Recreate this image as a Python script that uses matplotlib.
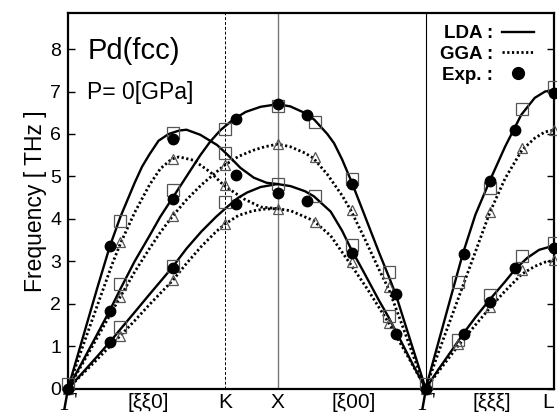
import matplotlib
matplotlib.use("Agg")
import matplotlib.pyplot as plt
from matplotlib.lines import Line2D

plt.rcParams['font.family'] = ['Liberation Sans', 'DejaVu Sans']

# high-symmetry positions along the path (units of 2pi/a)
G1, K, X, G2, L = 0.0, 1.0607, 1.4142, 2.4142, 3.2802
tick_pos = [G1, 0.54, K, X, 1.93, G2, 2.86, L]
tick_lab = ['Γ', '[ξξ0]', 'K', 'X', '[ξ00]', 'Γ', '[ξξξ]', 'L']

# ---- LDA curves (solid) ----
lda_a_x = [0, 0.1, 0.2, 0.283, 0.354, 0.45, 0.5, 0.55, 0.611, 0.68, 0.75, 0.8, 0.893, 1.006, 1.074, 1.164, 1.254, 1.34, 1.414]
lda_a_y = [0, 1.2, 2.4, 3.36, 4.05, 4.85, 5.23, 5.52, 5.84, 6.0, 6.08, 6.1, 5.98, 5.74, 5.52, 5.2, 4.97, 4.85, 4.82]
lda_b_x = [0, 0.1, 0.2, 0.283, 0.354, 0.45, 0.55, 0.623, 0.707, 0.8, 0.893, 0.96, 1.029, 1.119, 1.2, 1.3, 1.414,
           1.5, 1.614, 1.664, 1.75, 1.796, 1.85, 1.913, 2.0, 2.1, 2.164, 2.214, 2.3, 2.414]
lda_b_y = [0, 0.65, 1.3, 1.85, 2.35, 3.0, 3.6, 4.05, 4.5, 5.0, 5.5, 5.82, 6.09, 6.35, 6.52, 6.64, 6.7,
           6.65, 6.47, 6.33, 6.0, 5.78, 5.4, 4.88, 4.1, 3.2, 2.65, 2.2, 1.25, 0]
lda_c_x = [0, 0.1, 0.2, 0.283, 0.354, 0.45, 0.55, 0.63, 0.707, 0.8, 0.9, 1.0, 1.074, 1.15, 1.209, 1.3, 1.414,
           1.503, 1.6, 1.66, 1.773, 1.85, 1.909, 2.0, 2.1, 2.164, 2.25, 2.33, 2.414]
lda_c_y = [0, 0.38, 0.77, 1.1, 1.4, 1.8, 2.22, 2.55, 2.87, 3.3, 3.7, 4.05, 4.28, 4.5, 4.62, 4.75, 4.82,
           4.77, 4.65, 4.53, 4.17, 3.72, 3.3, 2.72, 2.07, 1.68, 1.1, 0.55, 0]
lda_d_x = [2.414, 2.5, 2.6, 2.665, 2.75, 2.847, 2.95, 3.059, 3.15, 3.22, 3.28]
lda_d_y = [0, 1.09, 2.36, 3.18, 4.1, 4.9, 5.7, 6.45, 6.85, 7.0, 7.04]
lda_e_x = [2.414, 2.5, 2.6, 2.665, 2.75, 2.847, 2.95, 3.02, 3.1, 3.18, 3.28]
lda_e_y = [0, 0.45, 0.95, 1.28, 1.68, 2.1, 2.52, 2.82, 3.08, 3.27, 3.37]

# ---- GGA curves (dotted) ----
gga_a_x = [0, 0.1, 0.2, 0.3, 0.354, 0.45, 0.55, 0.623, 0.7, 0.75, 0.848, 0.961, 1.051, 1.187, 1.3, 1.414]
gga_a_y = [0, 1.0, 1.98, 2.95, 3.42, 4.15, 4.8, 5.18, 5.41, 5.46, 5.38, 5.1, 4.79, 4.47, 4.28, 4.24]
gga_b_x = [0, 0.1, 0.2, 0.354, 0.45, 0.55, 0.623, 0.707, 0.8, 0.9, 1.051, 1.15, 1.254, 1.33, 1.414,
           1.5, 1.6, 1.656, 1.75, 1.85, 1.909, 2.0, 2.1, 2.164, 2.25, 2.33, 2.414]
gga_b_y = [0, 0.6, 1.22, 2.17, 2.75, 3.3, 3.68, 4.07, 4.45, 4.8, 5.25, 5.47, 5.62, 5.7, 5.76,
           5.7, 5.55, 5.43, 5.05, 4.55, 4.2, 3.55, 2.8, 2.35, 1.55, 0.78, 0]
gga_c_x = [0, 0.1, 0.2, 0.354, 0.45, 0.55, 0.707, 0.8, 0.9, 1.0, 1.061, 1.15, 1.25, 1.33, 1.414,
           1.503, 1.656, 1.773, 1.909, 2.02, 2.166, 2.3, 2.414]
gga_c_y = [0, 0.35, 0.7, 1.25, 1.6, 1.98, 2.55, 2.95, 3.35, 3.7, 3.88, 4.08, 4.19, 4.23, 4.24,
           4.19, 3.96, 3.6, 2.92, 2.35, 1.54, 0.72, 0]
gga_d_x = [2.414, 2.5, 2.6, 2.7, 2.847, 2.95, 3.064, 3.15, 3.22, 3.28]
gga_d_y = [0, 0.85, 1.8, 2.75, 4.15, 4.95, 5.62, 5.9, 6.05, 6.09]
gga_e_x = [2.414, 2.5, 2.631, 2.75, 2.847, 2.95, 3.064, 3.15, 3.22, 3.28]
gga_e_y = [0, 0.4, 1.0, 1.5, 1.9, 2.3, 2.7, 2.88, 2.98, 3.02]

# ---- computed points ----
sq_x = [0, 0.354, 0.354, 0.354, 0.707, 0.707, 0.707, 1.061, 1.061, 1.061, 1.414, 1.414, 1.664, 1.664,
        1.914, 1.914, 2.164, 2.164, 2.414, 2.631, 2.631, 2.847, 2.847, 3.064, 3.064, 3.280, 3.280]
sq_y = [0.1, 3.95, 2.46, 1.44, 6.03, 4.69, 2.90, 6.11, 5.56, 4.40, 6.65, 4.83, 6.29, 4.53,
        4.95, 3.38, 2.75, 1.72, 0.1, 2.51, 1.15, 4.72, 2.20, 6.58, 3.12, 7.11, 3.42]
tri_x = [0, 0.354, 0.354, 0.354, 0.707, 0.707, 0.707, 1.061, 1.061, 1.061, 1.414, 1.414, 1.664, 1.664,
         1.914, 1.914, 2.164, 2.164, 2.414, 2.631, 2.847, 2.847, 3.064, 3.064, 3.280, 3.280]
tri_y = [0, 3.45, 2.17, 1.25, 5.42, 4.07, 2.55, 5.27, 4.79, 3.87, 5.76, 4.24, 5.46, 3.93,
         4.20, 2.98, 2.39, 1.54, 0, 1.06, 4.15, 1.92, 5.68, 2.79, 6.09, 3.02]
# ---- experiment ----
exp_x = [0, 0.283, 0.283, 0.283, 0.707, 0.707, 0.707, 1.131, 1.131, 1.131, 1.414, 1.414, 1.614, 1.614,
         1.914, 1.914, 2.214, 2.214, 2.414, 2.674, 2.674, 2.847, 2.847, 3.020, 3.020, 3.280, 3.280]
exp_y = [0, 3.36, 1.83, 1.09, 5.88, 4.46, 2.83, 6.35, 5.03, 4.34, 6.70, 4.61, 6.45, 4.42,
         4.82, 3.20, 2.24, 1.29, 0, 3.18, 1.28, 4.90, 2.04, 6.09, 2.83, 6.97, 3.31]

fig = plt.figure(figsize=(5.57, 4.17), dpi=100)
ax = fig.add_axes([68/557, 1-388.6/417, (554-68)/557, (388.6-13)/417])

ax.axvline(K, color='black', lw=0.7, ls=(0, (3, 2)), zorder=1)
ax.axvline(X, color='#777777', lw=1.0, zorder=1)
ax.axvline(G2, color='black', lw=0.8, zorder=1)

for xs, ys in [(lda_a_x, lda_a_y), (lda_b_x, lda_b_y), (lda_c_x, lda_c_y), (lda_d_x, lda_d_y), (lda_e_x, lda_e_y)]:
    ax.plot(xs, ys, color='black', lw=1.7, zorder=2, solid_capstyle='round')
for xs, ys in [(gga_a_x, gga_a_y), (gga_b_x, gga_b_y), (gga_c_x, gga_c_y), (gga_d_x, gga_d_y), (gga_e_x, gga_e_y)]:
    ax.plot(xs, ys, color='black', lw=2.0, ls=(0, (0.8, 0.9)), zorder=2)

ax.plot(sq_x, sq_y, ls='none', marker='s', ms=8, mfc='none', mec='#555555', mew=0.9, zorder=3, clip_on=False)
ax.plot(tri_x, tri_y, ls='none', marker='^', ms=6.5, mfc='none', mec='#555555', mew=0.9, zorder=3, clip_on=False)
ax.plot(exp_x, exp_y, ls='none', marker='o', ms=7.5, mfc='black', mec='black', zorder=4, clip_on=False)

ax.set_xlim(0, L)
ax.set_ylim(0, 8.85)
ax.set_yticks(range(0, 9))
ax.tick_params(axis='y', direction='in', length=5, width=1, labelsize=14, right=True, left=True, pad=5)
ax.set_xticks(tick_pos)
ax.set_xticklabels(tick_lab, fontsize=15)
ax.tick_params(axis='x', length=0, pad=3)
for t, lab in zip(ax.get_xticklabels(), tick_lab):
    if lab == 'Γ':
        t.set_fontfamily(['Liberation Serif'])
        t.set_fontstyle('italic')
        t.set_fontsize(19)
    if lab == 'L':
        t.set_horizontalalignment('right')
for s in ax.spines.values():
    s.set_linewidth(1.6)

ax.set_ylabel('Frequency [ THz ]', fontsize=16.5, labelpad=2)

ax.text(0.04, 0.90, 'Pd(fcc)', transform=ax.transAxes, fontsize=21, va='center', ha='left')
ax.text(0.04, 0.788, 'P= 0[GPa]', transform=ax.transAxes, fontsize=16.5, va='center', ha='left')

handles = [Line2D([], [], color='black', lw=1.7),
           Line2D([], [], color='black', lw=2.0, ls=(0, (0.8, 0.9))),
           Line2D([], [], ls='none', marker='o', ms=8.5, color='black')]
leg = ax.legend(handles, ['LDA :', 'GGA :', 'Exp. :'], loc='upper right', frameon=False,
                bbox_to_anchor=(0.975, 0.988), borderaxespad=0.0,
                markerfirst=False, handlelength=1.7, handletextpad=0.5, labelspacing=0.2,
                prop={'weight': 'bold', 'size': 13.5})

fig.savefig('out.png', dpi=100)
